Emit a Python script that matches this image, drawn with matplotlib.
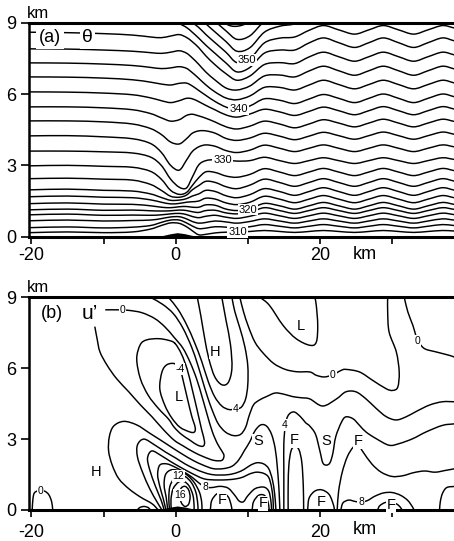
import numpy as np
import matplotlib
matplotlib.use("Agg")
import matplotlib.pyplot as plt
from matplotlib.path import Path
from matplotlib.patches import PathPatch

plt.rcParams['font.family'] = ['Liberation Sans', 'DejaVu Sans']

# ---------------- panel (a): isentrope heights (km) at x nodes (km) ----------------
x_nodes = [-20.3, -15, -10, -6, -3.5, -2, -0.7, 0.5, 1.5, 2.3, 3.2, 4.2, 5.5, 7, 8.5, 10.3,
           12.3, 14.4, 16.5, 18.5, 20.5, 22.6, 24.8, 26.8, 28.8, 30.9, 33, 35, 37, 38.6]

theta_310 = [0.17, 0.20, 0.17, 0.20, 0.32, 0.47, 0.58, 0.56, 0.42, 0.25, 0.08, 0.10, 0.16, 0.19, 0.20, 0.22, 0.26, 0.22, 0.18, 0.22, 0.26, 0.22, 0.18, 0.22, 0.26, 0.22, 0.18, 0.22, 0.26, 0.24]
theta_312 = [0.38, 0.41, 0.37, 0.40, 0.47, 0.60, 0.70, 0.70, 0.58, 0.45, 0.34, 0.36, 0.42, 0.40, 0.37, 0.42, 0.51, 0.44, 0.37, 0.44, 0.51, 0.44, 0.37, 0.44, 0.51, 0.44, 0.37, 0.44, 0.51, 0.47]
theta_314 = [0.67, 0.70, 0.66, 0.68, 0.70, 0.76, 0.83, 0.84, 0.75, 0.64, 0.57, 0.60, 0.66, 0.62, 0.57, 0.64, 0.75, 0.66, 0.57, 0.66, 0.75, 0.66, 0.57, 0.66, 0.75, 0.66, 0.57, 0.66, 0.75, 0.70]
theta_316 = [0.92, 0.95, 0.90, 0.91, 0.90, 0.92, 0.96, 0.98, 0.93, 0.85, 0.80, 0.86, 0.90, 0.82, 0.77, 0.86, 0.99, 0.88, 0.77, 0.88, 0.99, 0.88, 0.77, 0.88, 0.99, 0.88, 0.77, 0.88, 0.99, 0.93]
theta_318 = [1.13, 1.16, 1.11, 1.12, 1.09, 1.08, 1.09, 1.12, 1.10, 1.05, 1.02, 1.10, 1.11, 1.00, 0.96, 1.02, 1.22, 1.10, 0.98, 1.10, 1.22, 1.10, 0.98, 1.10, 1.22, 1.10, 0.98, 1.10, 1.22, 1.15]
theta_320 = [1.39, 1.42, 1.37, 1.36, 1.30, 1.24, 1.22, 1.26, 1.27, 1.24, 1.24, 1.34, 1.32, 1.16, 1.10, 1.17, 1.40, 1.30, 1.16, 1.30, 1.44, 1.30, 1.16, 1.30, 1.44, 1.30, 1.16, 1.30, 1.44, 1.36]
theta_322 = [1.68, 1.71, 1.66, 1.64, 1.55, 1.45, 1.38, 1.40, 1.45, 1.47, 1.50, 1.62, 1.58, 1.42, 1.35, 1.45, 1.70, 1.58, 1.43, 1.58, 1.73, 1.58, 1.43, 1.58, 1.73, 1.58, 1.43, 1.58, 1.73, 1.64]
theta_324 = [1.97, 2.00, 1.95, 1.92, 1.80, 1.65, 1.53, 1.54, 1.60, 1.71, 1.80, 1.95, 1.90, 1.72, 1.64, 1.77, 2.02, 1.90, 1.74, 1.90, 2.06, 1.90, 1.74, 1.90, 2.06, 1.90, 1.74, 1.90, 2.06, 1.96]
theta_326 = [2.44, 2.46, 2.42, 2.38, 2.20, 1.95, 1.70, 1.66, 1.75, 1.97, 2.15, 2.33, 2.28, 2.10, 2.02, 2.17, 2.42, 2.28, 2.12, 2.28, 2.44, 2.28, 2.12, 2.28, 2.44, 2.28, 2.12, 2.28, 2.44, 2.34]
theta_328 = [2.98, 3.00, 2.96, 2.92, 2.75, 2.42, 1.95, 1.78, 1.86, 2.15, 2.48, 2.73, 2.70, 2.55, 2.50, 2.62, 2.86, 2.72, 2.57, 2.72, 2.87, 2.72, 2.57, 2.72, 2.87, 2.72, 2.57, 2.72, 2.87, 2.78]
theta_330 = [3.60, 3.60, 3.57, 3.52, 3.35, 3.00, 2.42, 2.08, 2.05, 2.50, 3.02, 3.20, 3.24, 3.22, 3.18, 3.20, 3.34, 3.20, 3.08, 3.20, 3.32, 3.20, 3.08, 3.20, 3.32, 3.20, 3.08, 3.20, 3.32, 3.25]
theta_332 = [4.24, 4.25, 4.20, 4.12, 3.92, 3.55, 3.00, 2.80, 3.22, 3.58, 3.78, 3.86, 3.80, 3.62, 3.54, 3.64, 3.85, 3.72, 3.58, 3.72, 3.86, 3.72, 3.58, 3.72, 3.86, 3.72, 3.58, 3.72, 3.86, 3.78]
theta_334 = [4.87, 4.87, 4.83, 4.74, 4.55, 4.30, 3.98, 3.90, 4.12, 4.35, 4.45, 4.45, 4.35, 4.13, 4.05, 4.15, 4.35, 4.23, 4.08, 4.23, 4.39, 4.25, 4.10, 4.25, 4.40, 4.25, 4.10, 4.25, 4.40, 4.31]
theta_336 = [5.46, 5.46, 5.42, 5.34, 5.18, 5.00, 4.86, 4.92, 5.10, 5.15, 5.08, 4.98, 4.82, 4.62, 4.53, 4.65, 4.86, 4.74, 4.58, 4.74, 4.92, 4.78, 4.62, 4.78, 4.94, 4.78, 4.62, 4.78, 4.94, 4.85]
theta_338 = [6.09, 6.08, 6.04, 5.97, 5.84, 5.72, 5.64, 5.72, 5.82, 5.80, 5.68, 5.52, 5.33, 5.12, 5.03, 5.16, 5.36, 5.25, 5.10, 5.27, 5.45, 5.30, 5.13, 5.30, 5.47, 5.30, 5.13, 5.30, 5.47, 5.37]
theta_340 = [6.72, 6.71, 6.67, 6.60, 6.50, 6.42, 6.38, 6.45, 6.46, 6.34, 6.15, 5.94, 5.68, 5.45, 5.35, 5.50, 5.80, 5.74, 5.60, 5.79, 5.98, 5.82, 5.64, 5.82, 6.00, 5.82, 5.64, 5.82, 6.00, 5.89]
theta_342 = [7.31, 7.30, 7.26, 7.20, 7.12, 7.07, 7.10, 7.15, 7.08, 6.90, 6.66, 6.38, 6.08, 5.83, 5.76, 5.92, 6.28, 6.28, 6.17, 6.38, 6.58, 6.40, 6.22, 6.40, 6.58, 6.40, 6.22, 6.40, 6.58, 6.47]
theta_344 = [7.90, 7.89, 7.85, 7.80, 7.74, 7.71, 7.76, 7.82, 7.72, 7.52, 7.25, 6.92, 6.58, 6.25, 6.17, 6.34, 6.76, 6.80, 6.72, 6.97, 7.17, 6.98, 6.79, 6.98, 7.17, 6.98, 6.79, 6.98, 7.17, 7.06]
theta_346 = [8.60, 8.58, 8.54, 8.48, 8.40, 8.37, 8.44, 8.50, 8.38, 8.20, 7.95, 7.60, 7.22, 6.85, 6.58, 6.76, 7.24, 7.32, 7.28, 7.56, 7.76, 7.57, 7.38, 7.57, 7.76, 7.57, 7.38, 7.57, 7.76, 7.65]
theta_348 = [9.20, 9.18, 9.14, 9.08, 9.05, 9.03, 9.00, 8.95, 8.80, 8.60, 8.35, 8.05, 7.70, 7.30, 6.93, 7.12, 7.72, 7.85, 7.85, 8.15, 8.36, 8.16, 7.96, 8.16, 8.36, 8.16, 7.96, 8.16, 8.36, 8.24]
theta_350 = [9.80, 9.80, 9.78, 9.74, 9.70, 9.60, 9.40, 9.30, 9.15, 9.00, 8.80, 8.50, 8.15, 7.75, 7.32, 7.48, 8.15, 8.35, 8.40, 8.68, 8.88, 8.70, 8.52, 8.70, 8.88, 8.70, 8.52, 8.70, 8.88, 8.78]
theta_352 = [10.40, 10.40, 10.38, 10.35, 10.30, 10.10, 9.80, 9.70, 9.60, 9.45, 9.25, 8.95, 8.60, 8.20, 7.80, 7.95, 8.60, 8.85, 8.95, 9.20, 9.40, 9.22, 9.05, 9.22, 9.40, 9.22, 9.05, 9.22, 9.40, 9.30]
theta_354 = [11.00, 11.00, 11.00, 11.00, 11.00, 10.60, 10.20, 10.10, 10.00, 9.90, 9.70, 9.40, 9.05, 8.65, 8.30, 8.45, 9.05, 9.30, 9.45, 9.70, 9.90, 9.75, 9.60, 9.75, 9.90, 9.75, 9.60, 9.75, 9.90, 9.80]
theta_356 = [11.60, 11.60, 11.60, 11.60, 11.60, 11.20, 10.60, 10.50, 10.40, 10.30, 10.10, 9.80, 9.40, 8.95, 8.85, 9.05, 9.60, 9.90, 10.00, 10.20, 10.40, 10.30, 10.20, 10.30, 10.40, 10.30, 10.20, 10.30, 10.40, 10.35]

isentropes = [theta_310, theta_312, theta_314, theta_316, theta_318, theta_320, theta_322,
              theta_324, theta_326, theta_328, theta_330, theta_332, theta_334, theta_336,
              theta_338, theta_340, theta_342, theta_344, theta_346, theta_348, theta_350,
              theta_352, theta_354, theta_356]

theta_labels = ["350", "340", "330", "320", "310"]
theta_label_x = [9.9, 8.7, 6.5, 10.0, 8.6]
theta_label_z = [7.42, 5.36, 3.23, 1.14, 0.21]

terrain_x = [-2.8, -1.8, -0.8, 0.2, 1.2, 2.2, 3.2]
terrain_z = [0.0, 0.05, 0.12, 0.17, 0.13, 0.06, 0.0]

# ---------------- panel (b): traced u' contour lines (x km, z km) ----------------
u_zero_L = [(-9.7, 8.47), (-8.2, 8.47), (-6.6, 8.45), (-4.7, 8.35), (-2.9, 8.1), (-1.5, 7.75),
            (-0.2, 7.3), (1.0, 6.85), (2.0, 6.25), (2.9, 5.55), (3.7, 4.75), (4.4, 4.0),
            (5.1, 3.3), (5.8, 2.8), (6.4, 2.5), (6.7, 2.3), (6.4, 2.1), (5.3, 2.1), (3.9, 2.25),
            (2.5, 2.45), (1.1, 2.7), (-0.2, 2.95), (-1.7, 3.4), (-3.3, 3.95), (-4.9, 4.45),
            (-6.5, 5.0), (-8.2, 5.56), (-9.5, 6.12), (-10.5, 6.69), (-10.9, 7.25), (-11.2, 7.74)]
u_minus2 = [(-0.1, 7.05), (0.8, 6.6), (1.6, 5.95), (2.3, 5.1), (3.0, 4.2), (3.6, 3.4), (4.0, 2.9),
            (3.8, 2.7), (3.0, 2.75), (2.0, 2.95), (0.8, 3.2), (-0.2, 3.5), (-1.0, 3.85),
            (-2.4, 4.3), (-3.8, 4.85), (-4.9, 5.56), (-5.4, 6.4), (-4.9, 7.0), (-4.0, 7.2),
            (-2.4, 7.25), (-1.0, 7.18)]
u_minus4 = [(-0.1, 6.19), (0.6, 5.98), (1.1, 5.4), (1.6, 4.75), (2.2, 4.0), (2.7, 3.5), (2.6, 3.3),
            (2.0, 3.3), (0.6, 3.5), (-0.55, 3.9), (-1.5, 4.43), (-2.2, 5.13), (-1.9, 5.84), (-1.2, 6.15)]
u_band2 = [(-3.5, 9.0), (-1.8, 8.7), (-0.3, 8.3), (1.0, 7.7), (2.2, 6.9), (3.0, 6.2), (3.7, 5.5),
           (4.4, 4.8), (5.1, 4.2), (5.9, 3.65), (6.9, 3.3), (8.0, 3.15), (9.0, 3.2), (9.7, 3.5),
           (10.2, 4.0), (10.8, 4.45), (11.6, 4.65), (12.6, 4.8), (13.8, 4.95), (15.0, 4.9),
           (16.2, 4.8), (17.4, 4.75), (18.6, 4.7), (20.4, 4.4), (22.3, 4.7), (23.6, 5.0),
           (25.0, 5.0), (26.4, 4.7), (27.8, 4.3), (29.2, 3.95), (30.6, 3.81), (32.0, 3.95),
           (33.3, 4.16), (35.2, 4.44), (37.0, 4.58), (38.8, 4.58)]
u_four_H = [(-1.0, 9.0), (0.3, 8.5), (1.5, 7.85), (2.6, 7.1), (3.6, 6.3), (4.5, 5.45), (5.4, 4.8),
            (6.4, 4.4), (7.4, 4.25), (8.3, 4.28), (9.1, 4.35), (9.7, 4.7), (10.0, 5.3), (10.0, 6.1),
            (9.6, 6.9), (8.9, 7.7), (8.2, 8.4), (7.8, 9.0)]
u_six_H = [(3.0, 9.0), (3.5, 8.2), (4.0, 7.3), (4.6, 6.4), (5.4, 5.65), (6.4, 5.3), (7.3, 5.4),
           (7.8, 6.0), (7.6, 7.0), (7.0, 8.0), (6.4, 9.0)]
u_zero_R1 = [(8.9, 9.0), (9.4, 8.4), (10.1, 7.75), (11.0, 7.1), (12.1, 6.65), (13.6, 6.2),
             (15.2, 5.95), (16.8, 5.85), (18.6, 5.84), (19.5, 5.7), (20.6, 5.63), (21.8, 5.72),
             (22.9, 5.9), (23.6, 5.95), (25.5, 5.84), (27.3, 5.49), (29.2, 5.13), (30.1, 5.06),
             (30.8, 5.2), (31.0, 5.84), (30.6, 6.69), (29.6, 7.53), (29.4, 8.38), (29.4, 9.0)]
u_zero_R2 = [(31.7, 9.0), (32.2, 8.38), (32.9, 7.81), (33.3, 7.39), (33.6, 7.15), (34.5, 6.83),
             (36.1, 6.69), (38.0, 6.54), (38.8, 6.45)]
u_low_L = [(11.7, 9.0), (13.0, 8.66), (14.9, 7.81), (16.7, 7.25), (18.6, 6.97), (19.5, 7.1),
           (19.7, 7.81), (19.5, 8.66), (19.3, 9.0)]
u_four_mid = [(15.0, 0.0), (15.0, 0.8), (15.0, 1.8), (15.0, 2.8), (15.2, 3.55), (15.6, 4.0),
              (16.4, 4.15), (17.3, 3.95), (18.0, 3.7), (18.6, 3.55), (19.4, 3.2), (20.0, 2.5),
              (20.4, 2.0), (20.9, 1.9), (21.4, 2.0), (21.8, 2.4), (22.2, 3.1), (23.0, 3.72),
              (23.6, 3.94), (24.6, 3.86), (25.5, 3.58), (26.4, 3.3), (27.8, 3.02), (29.6, 2.74),
              (31.0, 2.81), (32.9, 3.02), (34.7, 3.3), (37.0, 3.58), (38.8, 3.65)]
u_six_tall = [(15.6, 0.0), (15.6, 1.0), (15.7, 1.9), (16.0, 2.5), (16.5, 2.7), (17.1, 2.55),
              (17.5, 2.0), (17.7, 1.0), (17.75, 0.0)]
u_six_right = [(22.4, 0.0), (22.6, 0.8), (23.1, 1.6), (23.8, 2.25), (24.6, 2.65), (25.3, 2.75),
               (26.0, 2.45), (27.2, 1.95), (28.5, 1.6), (30.0, 1.42), (31.5, 1.45), (33.0, 1.58),
               (34.5, 1.65), (36.0, 1.6), (37.5, 1.68), (38.8, 1.75)]
u_eight_right = [(22.9, 0.0), (23.2, 0.3), (24.0, 0.42), (24.9, 0.36), (25.7, 0.34), (26.6, 0.4),
                 (27.6, 0.58), (28.8, 0.72), (30.0, 0.74), (31.2, 0.62), (32.2, 0.4), (32.9, 0.1),
                 (33.0, 0.0)]
u_edge_right = [(36.6, 0.0), (36.7, 0.35), (37.0, 0.7), (37.6, 0.95), (38.8, 1.0)]
u_jet2 = [(-2.4, 0.0), (-3.3, 0.27), (-4.9, 0.55), (-6.5, 0.9), (-7.9, 1.33), (-8.8, 1.9),
          (-9.3, 2.5), (-9.2, 3.1), (-8.6, 3.55), (-7.2, 3.75), (-5.4, 3.6), (-3.6, 3.25),
          (-1.8, 2.9), (-0.3, 2.6), (1.0, 2.35), (2.4, 2.1), (3.8, 1.9), (5.2, 1.75), (6.6, 1.75),
          (7.8, 1.85), (8.7, 2.1), (9.5, 2.5), (10.3, 2.9), (11.0, 3.35), (11.8, 3.6),
          (12.6, 3.55), (13.3, 3.2), (13.8, 2.6), (14.1, 1.8), (14.3, 1.0), (14.4, 0.4), (14.45, 0.0)]
u_jet4 = [(-1.9, 0.0), (-2.6, 0.35), (-3.6, 0.9), (-4.6, 1.6), (-5.3, 2.25), (-5.3, 2.75),
          (-4.4, 3.0), (-2.9, 2.75), (-1.4, 2.45), (0.0, 2.2), (1.3, 1.95), (2.6, 1.75), (3.8, 1.6),
          (5.0, 1.5), (6.2, 1.48), (7.4, 1.5), (8.5, 1.58), (9.5, 1.72), (10.4, 1.9), (11.3, 2.0),
          (12.2, 1.95), (12.9, 1.75), (13.4, 1.3), (13.7, 0.75), (13.85, 0.25), (13.9, 0.0)]
u_jet6 = [(-1.6, 0.0), (-2.0, 0.4), (-2.8, 1.0), (-3.6, 1.7), (-3.9, 2.2), (-3.3, 2.5), (-2.0, 2.3),
          (-0.7, 2.05), (0.6, 1.82), (1.8, 1.62), (2.9, 1.45), (3.9, 1.32), (4.9, 1.28), (6.0, 1.27),
          (7.2, 1.28), (8.4, 1.32), (9.4, 1.4), (10.2, 1.52), (11.2, 1.6), (12.2, 1.55),
          (12.9, 1.38), (13.3, 0.95), (13.5, 0.45), (13.55, 0.0)]
u_jet8 = [(-1.35, 0.0), (-1.7, 0.45), (-2.2, 1.0), (-2.5, 1.5), (-2.2, 1.9), (-1.2, 1.95),
          (0.0, 1.8), (1.2, 1.6), (2.3, 1.38), (3.2, 1.15), (4.1, 0.97), (5.0, 0.95), (6.2, 1.0),
          (7.3, 0.92), (8.2, 0.62), (8.8, 0.38), (9.4, 0.35), (10.0, 0.6), (11.0, 0.9),
          (12.2, 0.97), (12.9, 0.8), (13.2, 0.4), (13.3, 0.0)]
u_jet10 = [(-1.1, 0.0), (-1.3, 0.5), (-1.6, 1.05), (-1.4, 1.5), (-0.6, 1.7), (0.6, 1.65),
           (1.7, 1.45), (2.6, 1.15), (3.3, 0.75), (3.6, 0.35), (3.65, 0.0)]
u_jet12 = [(-0.85, 0.0), (-0.95, 0.5), (-0.8, 1.0), (-0.2, 1.35), (0.4, 1.45), (1.3, 1.42),
           (2.2, 1.15), (2.8, 0.75), (3.05, 0.3), (3.1, 0.0)]
u_jet14 = [(-0.6, 0.0), (-0.65, 0.45), (-0.35, 0.9), (0.4, 1.18), (1.2, 1.2), (1.9, 1.0),
           (2.4, 0.62), (2.55, 0.2), (2.55, 0.0)]
u_jet16 = [(0.55, 0.62), (0.75, 0.92), (1.3, 1.0), (1.8, 0.85), (2.0, 0.55), (1.8, 0.25),
           (1.3, 0.15), (0.8, 0.3)]
u_f6 = [(4.8, 0.0), (5.0, 0.4), (5.7, 0.68), (6.5, 0.72), (7.3, 0.55), (7.7, 0.2), (7.8, 0.0)]
u_f12 = [(10.6, 0.0), (10.8, 0.35), (11.5, 0.62), (12.3, 0.62), (12.8, 0.35), (12.95, 0.05), (13.0, 0.0)]
u_f20 = [(18.3, 0.0), (18.5, 0.5), (19.3, 0.8), (20.3, 0.85), (21.3, 0.65), (21.9, 0.2), (22.0, 0.0)]
u_f29 = [(28.0, 0.0), (28.3, 0.18), (29.1, 0.32), (30.1, 0.33), (30.9, 0.2), (31.3, 0.05), (31.4, 0.0)]
u_zero_left = [(-19.9, 0.0), (-19.8, 0.45), (-19.6, 0.72), (-19.0, 0.82), (-18.2, 0.8),
               (-17.6, 0.65), (-17.2, 0.35), (-17.05, 0.0)]
u_bump = [(-5.3, 0.0), (-5.0, 0.1), (-4.4, 0.15), (-3.8, 0.1), (-3.5, 0.0)]

open_lines_b = [u_zero_L, u_band2, u_four_H, u_six_H, u_zero_R1, u_zero_R2, u_low_L, u_four_mid,
                u_six_tall, u_six_right, u_eight_right, u_edge_right, u_jet2, u_jet4, u_jet6,
                u_jet8, u_jet10, u_jet12, u_jet14, u_f6, u_f12, u_f20, u_f29, u_zero_left, u_bump]
closed_lines_b = [u_minus2, u_minus4, u_jet16]

b_labels = ["0", "-4", "4", "0", "0", "12", "8", "16", "8", "4", "0"]
b_label_x = [-7.4, 0.6, 8.3, 21.8, 33.55, 0.4, 4.1, 0.6, 25.7, 15.15, -18.75]
b_label_z = [8.46, 5.98, 4.28, 5.72, 7.15, 1.45, 0.97, 0.63, 0.34, 3.6, 0.8]
b_letters = ["L", "H", "L", "S", "F", "S", "F", "H", "F", "F", "F", "F"]
b_letter_x = [0.4, 5.4, 17.4, 11.4, 16.5, 20.9, 25.3, -11.1, 6.4, 12.1, 20.2, 29.9]
b_letter_z = [4.78, 6.7, 7.8, 2.9, 2.96, 2.9, 2.9, 1.6, 0.42, 0.28, 0.35, 0.2]


def smooth_path(xs, zs, closed=False):
    P = np.column_stack([xs, zs]).astype(float)
    n = len(P)
    if closed:
        ext = np.vstack([P[-1], P, P[0], P[1]])
        segs = n
    else:
        ext = np.vstack([2 * P[0] - P[1], P, 2 * P[-1] - P[-2]])
        segs = n - 1
    verts = [P[0]]
    codes = [Path.MOVETO]
    for k in range(segs):
        p0, p1, p2, p3 = ext[k], ext[k + 1], ext[k + 2], ext[k + 3]
        verts += [p1 + (p2 - p0) / 6.0, p2 - (p3 - p1) / 6.0, p2]
        codes += [Path.CURVE4] * 3
    return Path(verts, codes)


def draw_line(ax, xs, zs, closed=False, lw=1.05):
    ax.add_patch(PathPatch(smooth_path(xs, zs, closed), fill=False, lw=lw,
                           edgecolor='black', capstyle='round', joinstyle='round'))


W, H = 454, 541
fig = plt.figure(figsize=(W / 100, H / 100), dpi=100)
fig.patch.set_facecolor('white')

left_px = 28.5
axes_a = fig.add_axes([left_px / W, 1 - 236.7 / H, 1 - left_px / W, 214.0 / H])
axes_b = fig.add_axes([left_px / W, 1 - 510.0 / H, 1 - left_px / W, 212.7 / H])

xticks = [-20, -10, 0, 10, 20, 30]
xticklabels = ['-20', '', '0', '', '20', '']

for ax, pad in ((axes_a, 2.5), (axes_b, 5.0)):
    ax.set_xlim(-20.41, 38.6)
    ax.set_ylim(0, 9)
    ax.set_xticks(xticks)
    ax.set_xticklabels(xticklabels)
    ax.set_yticks([0, 3, 6, 9])
    ax.set_yticklabels(['0', '3', '6', '9'])
    ax.tick_params(axis='x', direction='out', length=5, width=1.2, pad=pad, labelsize=13)
    ax.tick_params(axis='y', direction='out', length=6, width=1.2, pad=3, labelsize=13)
    ax.spines['right'].set_visible(False)
    ax.spines['top'].set_linewidth(2.2)
    ax.spines['left'].set_linewidth(1.8)
    ax.spines['bottom'].set_linewidth(2.2)
    ax.fill_between(terrain_x, 0, terrain_z, color='black', lw=0)
    ax.annotate('km', xy=(26.3, 0), xycoords=('data', 'axes fraction'),
                xytext=(0, -(5 + pad) * 0.72 - 1), textcoords='offset points',
                ha='center', va='top', fontsize=13)
    ax.text(0.022, 1.045, 'km', transform=ax.transAxes, ha='center', va='center', fontsize=12)

# ---- panel (a)
for heights in isentropes:
    draw_line(axes_a, x_nodes, heights)
for lab, lx, lz in zip(theta_labels, theta_label_x, theta_label_z):
    axes_a.text(lx, lz, lab, fontsize=8, ha='center', va='center',
                bbox=dict(boxstyle='square,pad=0.08', fc='white', ec='none'))
axes_a.text(-17.4, 8.36, '(a)', fontsize=13, ha='center', va='center',
            bbox=dict(boxstyle='square,pad=0.15', fc='white', ec='none'))
axes_a.text(-12.25, 8.36, 'θ', fontsize=14, ha='center', va='center',
            bbox=dict(boxstyle='square,pad=0.12', fc='white', ec='none'))

# ---- panel (b)
for line in open_lines_b:
    xs, zs = zip(*line)
    draw_line(axes_b, xs, zs)
for line in closed_lines_b:
    xs, zs = zip(*line)
    draw_line(axes_b, xs, zs, closed=True)
for lab, lx, lz in zip(b_labels, b_label_x, b_label_z):
    axes_b.text(lx, lz, lab, fontsize=7.5, ha='center', va='center',
                bbox=dict(boxstyle='square,pad=0.08', fc='white', ec='none'))
for lab, lx, lz in zip(b_letters, b_letter_x, b_letter_z):
    axes_b.text(lx, lz, lab, fontsize=10.5, ha='center', va='center',
                bbox=dict(boxstyle='square,pad=0.05', fc='white', ec='none'))
axes_b.text(-17.2, 8.32, '(b)', fontsize=13, ha='center', va='center',
            bbox=dict(boxstyle='square,pad=0.15', fc='white', ec='none'))
axes_b.text(-11.9, 8.3, 'u’', fontsize=15, ha='center', va='center',
            bbox=dict(boxstyle='square,pad=0.15', fc='white', ec='none'))

fig.savefig('out.png', dpi=100, facecolor='white')
